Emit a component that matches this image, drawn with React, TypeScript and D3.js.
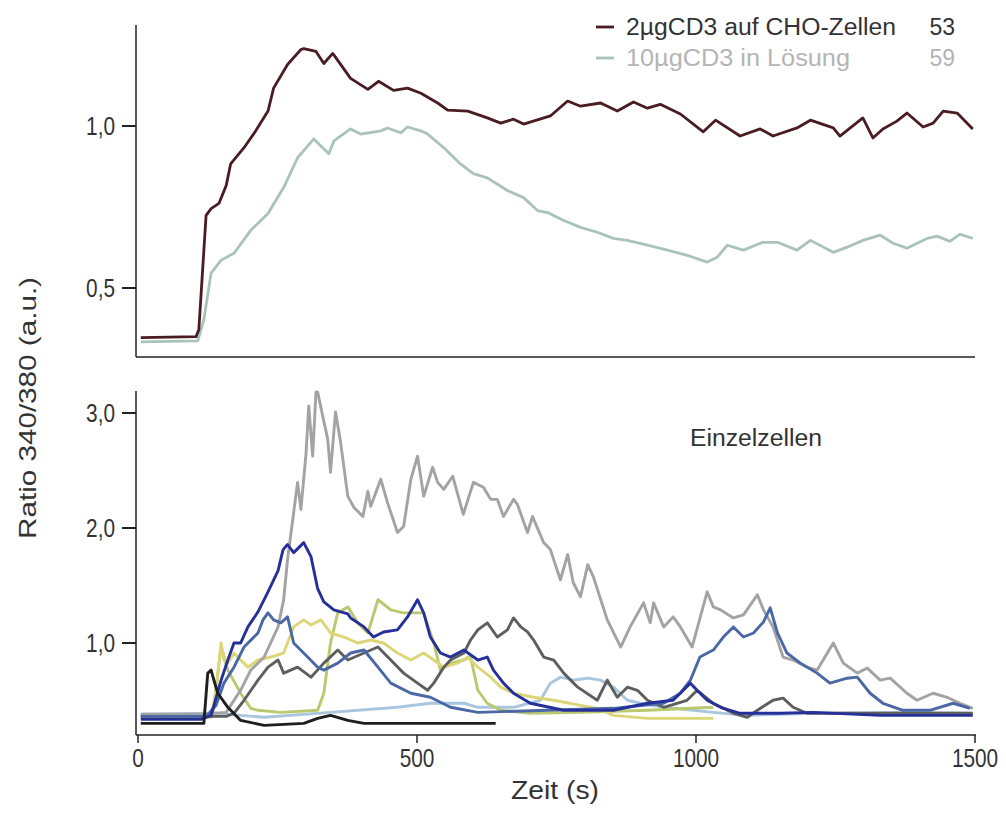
import React from "react";
import * as d3 from "d3";

// ---------- data (time in s, ratio 340/380) ----------
const xTicks = [0, 500, 1000, 1500];
const topTicks = [0.5, 1.0];
const bottomTicks = [1.0, 2.0, 3.0];

const legendLabels = ["2µgCD3 auf CHO-Zellen", "10µgCD3 in Lösung"];
const legendCounts = ["53", "59"];

const choCells: [number, number][] = [
  [5, 0.347], [104, 0.35], [109, 0.371], [122, 0.724], [131, 0.745], [145, 0.761], [158, 0.816],
  [166, 0.883], [190, 0.933], [211, 0.985], [233, 1.046], [243, 1.117], [268, 1.19], [292, 1.236],
  [297, 1.239], [319, 1.23], [333, 1.193], [349, 1.224], [381, 1.147], [412, 1.113], [431, 1.138],
  [458, 1.11], [483, 1.117], [507, 1.101], [537, 1.071], [555, 1.049], [591, 1.046], [626, 1.025],
  [650, 1.009], [673, 1.021], [691, 1.006], [739, 1.031], [770, 1.077], [793, 1.061], [829, 1.071],
  [859, 1.046], [888, 1.074], [913, 1.055], [936, 1.067], [972, 1.037], [1013, 0.982], [1035, 1.018],
  [1079, 0.969], [1115, 0.991], [1138, 0.969], [1181, 0.994], [1205, 1.018], [1246, 0.994],
  [1258, 0.969], [1299, 1.025], [1317, 0.963], [1335, 0.991], [1360, 1.015], [1378, 1.04],
  [1407, 0.997], [1425, 1.009], [1443, 1.046], [1468, 1.04], [1496, 0.991],
];

const solution: [number, number][] = [
  [5, 0.334], [107, 0.337], [118, 0.402], [131, 0.546], [149, 0.586], [172, 0.607], [202, 0.678],
  [233, 0.73], [261, 0.81], [286, 0.902], [315, 0.96], [342, 0.914], [351, 0.954], [381, 0.991],
  [399, 0.975], [435, 0.985], [447, 0.994], [471, 0.979], [483, 0.997], [507, 0.985], [519, 0.975],
  [548, 0.933], [578, 0.883], [601, 0.853], [626, 0.84], [662, 0.801], [691, 0.779], [716, 0.739],
  [734, 0.733], [762, 0.709], [793, 0.687], [823, 0.672], [852, 0.653], [877, 0.647], [913, 0.632],
  [949, 0.617], [984, 0.601], [1020, 0.58], [1038, 0.595], [1056, 0.632], [1085, 0.617],
  [1120, 0.641], [1146, 0.641], [1181, 0.617], [1205, 0.647], [1246, 0.61], [1271, 0.626],
  [1299, 0.647], [1330, 0.663], [1353, 0.638], [1378, 0.623], [1414, 0.653], [1432, 0.66],
  [1455, 0.644], [1473, 0.666], [1496, 0.653],
];

const cellLightBlue: [number, number][] = [
  [5, 0.38], [136, 0.389], [226, 0.354], [345, 0.397], [465, 0.441], [524, 0.476], [584, 0.476],
  [609, 0.441], [673, 0.441], [721, 0.502], [739, 0.651], [757, 0.703], [780, 0.677], [806, 0.694],
  [829, 0.677], [852, 0.616], [877, 0.502], [900, 0.476], [942, 0.441], [1031, 0.397], [1092, 0.371],
  [1210, 0.389], [1389, 0.397], [1496, 0.389],
];

const cellYellowGreen: [number, number][] = [
  [5, 0.362], [134, 0.362], [143, 0.738], [149, 0.965], [161, 0.764], [184, 0.563], [202, 0.432],
  [215, 0.415], [256, 0.397], [322, 0.415], [333, 0.563], [345, 1.0], [358, 1.262], [376, 1.314],
  [394, 1.175], [412, 1.087], [430, 1.376], [453, 1.288], [476, 1.262], [494, 1.262], [512, 1.262],
  [530, 1.0], [542, 0.764], [560, 0.825], [584, 0.852], [596, 0.878], [609, 0.589], [626, 0.476],
  [650, 0.415], [703, 0.389], [793, 0.397], [913, 0.415], [1031, 0.441],
];

const cellYellow: [number, number][] = [
  [5, 0.354], [131, 0.354], [140, 0.59], [149, 1.0], [154, 0.852], [161, 0.825], [172, 0.913],
  [184, 0.852], [197, 0.79], [215, 0.852], [238, 0.878], [261, 0.913], [279, 1.14], [297, 1.201],
  [310, 1.157], [328, 1.201], [345, 1.087], [369, 1.052], [394, 1.0], [417, 1.026], [440, 1.0],
  [465, 0.913], [489, 0.852], [512, 0.913], [530, 0.852], [548, 0.79], [573, 0.825], [591, 0.878],
  [609, 0.79], [632, 0.703], [650, 0.616], [673, 0.563], [709, 0.528], [745, 0.502], [793, 0.458],
  [823, 0.432], [852, 0.371], [913, 0.345], [1031, 0.345],
];

const cellDarkGray: [number, number][] = [
  [5, 0.362], [158, 0.362], [172, 0.389], [190, 0.502], [215, 0.677], [233, 0.79], [251, 0.852],
  [261, 0.738], [286, 0.79], [310, 0.703], [333, 0.825], [358, 0.939], [376, 0.852], [405, 0.913],
  [430, 0.965], [453, 0.852], [476, 0.738], [501, 0.651], [519, 0.589], [530, 0.651], [548, 0.79],
  [560, 0.852], [584, 0.913], [596, 1.026], [609, 1.114], [626, 1.175], [644, 1.052], [662, 1.114],
  [673, 1.218], [686, 1.14], [698, 1.096], [709, 1.026], [727, 0.878], [745, 0.852], [763, 0.738],
  [788, 0.616], [823, 0.502], [841, 0.677], [859, 0.528], [877, 0.616], [895, 0.589], [913, 0.502],
  [942, 0.441], [984, 0.502], [1002, 0.589], [1031, 0.476], [1067, 0.389], [1092, 0.354],
  [1110, 0.415], [1138, 0.502], [1156, 0.52], [1174, 0.441], [1199, 0.389], [1330, 0.389],
  [1496, 0.389],
];

const cellGray: [number, number][] = [
  [5, 0.38], [113, 0.38], [158, 0.397], [184, 0.59], [202, 0.764], [226, 0.878], [251, 1.14],
  [261, 1.376], [268, 1.725], [286, 2.397], [292, 2.162], [301, 2.642], [306, 3.061], [313, 2.625],
  [319, 3.183], [322, 3.183], [331, 2.974], [340, 2.773], [345, 2.485], [354, 3.009], [363, 2.747],
  [376, 2.275], [387, 2.179], [403, 2.1], [412, 2.319], [417, 2.188], [435, 2.424], [447, 2.223],
  [465, 1.961], [476, 2.013], [489, 2.424], [501, 2.625], [512, 2.275], [528, 2.528], [537, 2.397],
  [548, 2.336], [564, 2.45], [583, 2.118], [601, 2.397], [619, 2.354], [632, 2.249], [644, 2.249],
  [655, 2.1], [673, 2.249], [680, 2.205], [698, 1.961], [707, 2.1], [727, 1.873], [739, 1.812],
  [757, 1.55], [770, 1.769], [780, 1.524], [793, 1.402], [806, 1.681], [816, 1.576], [841, 1.201],
  [865, 0.965], [882, 1.14], [906, 1.349], [918, 1.175], [924, 1.349], [942, 1.14], [959, 1.227],
  [972, 1.14], [993, 0.965], [1020, 1.445], [1031, 1.314], [1044, 1.288], [1067, 1.218],
  [1085, 1.245], [1110, 1.419], [1121, 1.288], [1138, 1.14], [1156, 0.878], [1174, 0.852],
  [1199, 0.79], [1217, 0.764], [1246, 1.0], [1264, 0.825], [1289, 0.738], [1307, 0.782],
  [1330, 0.677], [1348, 0.694], [1378, 0.563], [1396, 0.502], [1425, 0.563], [1450, 0.528],
  [1473, 0.476], [1496, 0.432],
];

const cellSteel: [number, number][] = [
  [5, 0.362], [122, 0.362], [140, 0.458], [154, 0.651], [172, 0.79], [190, 0.965], [215, 1.087],
  [224, 1.201], [233, 1.262], [243, 1.201], [256, 1.175], [268, 1.227], [279, 1.0], [304, 0.878],
  [322, 0.79], [333, 0.764], [358, 0.825], [381, 0.913], [405, 0.939], [430, 0.79], [453, 0.651],
  [489, 0.563], [524, 0.528], [560, 0.441], [609, 0.397], [734, 0.415], [852, 0.432], [942, 0.476],
  [972, 0.563], [990, 0.677], [1007, 0.878], [1031, 0.939], [1049, 1.052], [1067, 1.14],
  [1085, 1.052], [1103, 1.087], [1121, 1.183], [1133, 1.306], [1146, 1.087], [1163, 0.913],
  [1187, 0.825], [1217, 0.738], [1240, 0.651], [1271, 0.694], [1289, 0.703], [1312, 0.563],
  [1335, 0.476], [1371, 0.415], [1419, 0.415], [1461, 0.476], [1491, 0.432],
];

const cellNavy: [number, number][] = [
  [5, 0.336], [113, 0.336], [131, 0.371], [149, 0.677], [161, 0.852], [172, 1.0], [184, 1.0],
  [197, 1.14], [215, 1.271], [233, 1.445], [251, 1.629], [260, 1.812], [268, 1.856], [279, 1.786],
  [297, 1.873], [310, 1.751], [322, 1.472], [333, 1.358], [351, 1.288], [376, 1.253], [381, 1.218],
  [405, 1.14], [422, 1.052], [440, 1.096], [465, 1.114], [483, 1.227], [501, 1.376], [512, 1.262],
  [524, 1.052], [542, 0.913], [560, 0.878], [584, 0.939], [609, 0.852], [626, 0.878], [637, 0.764],
  [655, 0.651], [673, 0.563], [703, 0.476], [763, 0.415], [852, 0.415], [913, 0.476], [959, 0.502],
  [990, 0.651], [1002, 0.589], [1020, 0.502], [1044, 0.441], [1079, 0.389], [1151, 0.389],
  [1210, 0.397], [1330, 0.371], [1496, 0.371],
];

const cellBlack: [number, number][] = [
  [5, 0.301], [118, 0.301], [125, 0.738], [131, 0.764], [136, 0.677], [143, 0.563], [161, 0.441],
  [184, 0.327], [226, 0.284], [297, 0.301], [322, 0.345], [345, 0.371], [376, 0.327], [405, 0.301],
  [641, 0.301],
];

const topSeries = [
  { data: solution, color: "#a9c3ba" },
  { data: choCells, color: "#4a1c22" },
];

const bottomSeries = [
  { data: cellLightBlue, color: "#a8c6df" },
  { data: cellYellowGreen, color: "#b9c96e" },
  { data: cellYellow, color: "#dcd676" },
  { data: cellDarkGray, color: "#5e5e5e" },
  { data: cellGray, color: "#a3a3a3" },
  { data: cellSteel, color: "#4b68a6" },
  { data: cellNavy, color: "#25309a" },
  { data: cellBlack, color: "#1e1e22" },
];

const FONT = "'Liberation Sans', Arial, sans-serif";
const TXT = "#333";
const fmt = (v: number) => d3.format(".1f")(v).replace(".", ",");

function TickLabel({ x, y, anchor, children }: { x: number; y: number; anchor: string; children: React.ReactNode }) {
  return (
    <text
      transform={`translate(${x},${y}) scale(0.8,1)`}
      dy="0.35em"
      textAnchor={anchor}
      fontSize={26}
      fill={TXT}
    >
      {children}
    </text>
  );
}

export default function App() {
  const x = d3.scaleLinear().domain([0, 1500]).range([138, 975]);
  const yTop = d3.scaleLinear().domain([0.5, 1.0]).range([288, 126]);
  const yBot = d3.scaleLinear().domain([1.0, 3.0]).range([643, 413]);
  const axisX = 136;

  const lineTop = d3
    .line<[number, number]>()
    .x((d) => x(d[0]))
    .y((d) => yTop(d[1]));
  const lineBot = d3
    .line<[number, number]>()
    .x((d) => x(d[0]))
    .y((d) => yBot(d[1]));

  const legendWidths = [270, 224];

  return (
    <svg
      width={1006}
      height={814}
      style={{ position: "absolute", left: 0, top: 0, background: "#fff" }}
      fontFamily={FONT}
    >
      {/* top panel */}
      <line x1={axisX} y1={25} x2={axisX} y2={357} stroke="#222" strokeWidth={1.5} />
      <line x1={axisX} y1={357} x2={975} y2={357} stroke="#222" strokeWidth={1.5} />
      {topTicks.map((t) => (
        <g key={"tt" + t}>
          <line x1={122} x2={axisX} y1={yTop(t)} y2={yTop(t)} stroke="#222" strokeWidth={2} />
          <TickLabel x={115} y={yTop(t)} anchor="end">{fmt(t)}</TickLabel>
        </g>
      ))}
      {topSeries.map((s, i) => (
        <path key={"ts" + i} d={lineTop(s.data) || ""} fill="none" stroke={s.color} strokeWidth={2.8} strokeLinejoin="round" />
      ))}

      {/* legend */}
      {legendLabels.map((lab, i) => {
        const yy = 27 + i * 31;
        const col = i === 0 ? "#4a1c22" : "#a9c3ba";
        const tcol = i === 0 ? TXT : "#b4b4b4";
        return (
          <g key={"lg" + i}>
            <line x1={596} x2={614} y1={yy} y2={yy} stroke={col} strokeWidth={2.8} />
            <text x={626} y={yy} dy="0.35em" fontSize={23} fill={tcol} textLength={legendWidths[i]} lengthAdjust="spacingAndGlyphs">{lab}</text>
            <text x={955} y={yy} dy="0.35em" fontSize={23} fill={tcol} textAnchor="end">{legendCounts[i]}</text>
          </g>
        );
      })}

      {/* bottom panel */}
      <line x1={axisX} y1={391} x2={axisX} y2={735} stroke="#222" strokeWidth={1.5} />
      <line x1={axisX} y1={735} x2={976} y2={735} stroke="#222" strokeWidth={1.5} />
      {bottomTicks.map((t) => (
        <g key={"bt" + t}>
          <line x1={122} x2={axisX} y1={yBot(t)} y2={yBot(t)} stroke="#222" strokeWidth={2} />
          <TickLabel x={115} y={yBot(t)} anchor="end">{fmt(t)}</TickLabel>
        </g>
      ))}
      {xTicks.map((t) => (
        <g key={"xt" + t}>
          <line x1={x(t)} x2={x(t)} y1={735} y2={743} stroke="#222" strokeWidth={1.5} />
          <TickLabel x={x(t)} y={758} anchor="middle">{t}</TickLabel>
        </g>
      ))}
      {bottomSeries.map((s, i) => (
        <path key={"bs" + i} d={lineBot(s.data) || ""} fill="none" stroke={s.color} strokeWidth={2.9} strokeLinejoin="round" />
      ))}

      <text x={690} y={438} dy="0.35em" fontSize={23} fill={TXT} textLength={132} lengthAdjust="spacingAndGlyphs">Einzelzellen</text>
      <text x={511} y={790} dy="0.35em" fontSize={25} fill={TXT} textLength={88} lengthAdjust="spacingAndGlyphs">Zeit (s)</text>
      <text
        transform="translate(28,408) rotate(-90)"
        x={-131}
        dy="0.35em"
        fontSize={24}
        fill={TXT}
        textLength={262}
        lengthAdjust="spacingAndGlyphs"
      >
        Ratio 340/380 (a.u.)
      </text>
    </svg>
  );
}
